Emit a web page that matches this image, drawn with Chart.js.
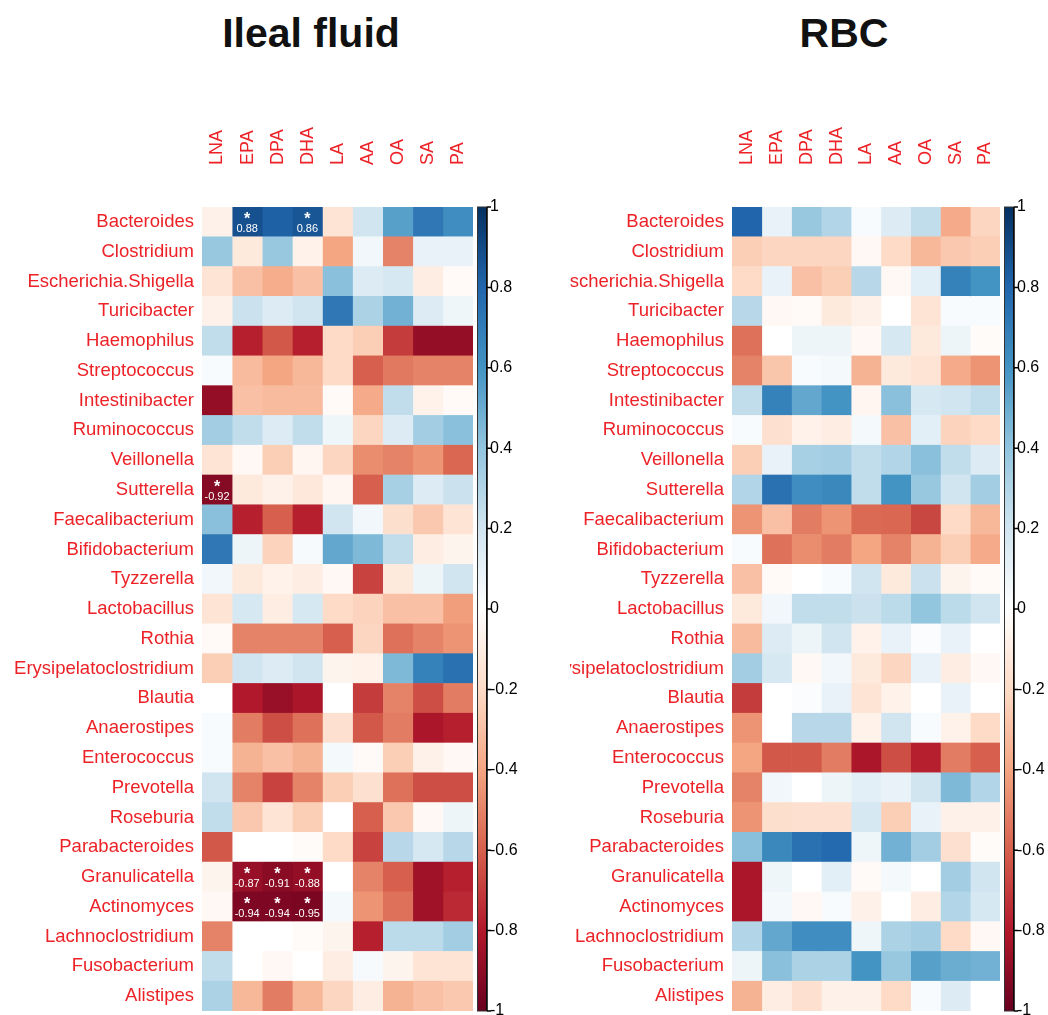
<!DOCTYPE html>
<html>
<head>
<meta charset="utf-8">
<script src="https://cdn.jsdelivr.net/npm/chart.js@4.4.1/dist/chart.umd.min.js"></script>
<style>
  body { margin: 0; background: #fff; width: 1048px; height: 1015px; position: relative; overflow: hidden;
         font-family: "Liberation Sans", Arial, sans-serif; }
  .title { position: absolute; top: 10px; line-height: 47px; font-weight: bold; font-size: 41px; color: #111;
           transform: translateX(-50%); white-space: nowrap; }
  canvas { position: absolute; top: 0; }
</style>
</head>
<body>
<div class="title" style="left:311px">Ileal fluid</div>
<div class="title" style="left:844px">RBC</div>
<canvas id="ileal" width="520" height="1015" style="left:0"></canvas>
<canvas id="rbc" width="478" height="1015" style="left:570px"></canvas>
<script>
const rows = ["Bacteroides", "Clostridium", "Escherichia.Shigella", "Turicibacter", "Haemophilus",
  "Streptococcus", "Intestinibacter", "Ruminococcus", "Veillonella", "Sutterella", "Faecalibacterium",
  "Bifidobacterium", "Tyzzerella", "Lactobacillus", "Rothia", "Erysipelatoclostridium", "Blautia",
  "Anaerostipes", "Enterococcus", "Prevotella", "Roseburia", "Parabacteroides", "Granulicatella",
  "Actinomyces", "Lachnoclostridium", "Fusobacterium", "Alistipes"];
const cols = ["LNA", "EPA", "DPA", "DHA", "LA", "AA", "OA", "SA", "PA"];

// correlation values, one row per genus, columns as in cols
const ilealValues = [
  [-0.08, 0.88, 0.82, 0.86, -0.15, 0.20, 0.55, 0.72, 0.62],
  [0.38, -0.12, 0.38, -0.07, -0.40, 0.06, -0.50, 0.10, 0.10],
  [-0.15, -0.30, -0.37, -0.30, 0.42, 0.15, 0.18, -0.10, -0.03],
  [-0.08, 0.22, 0.15, 0.20, 0.72, 0.32, 0.48, 0.15, 0.07],
  [0.25, -0.78, -0.62, -0.78, -0.20, -0.25, -0.70, -0.88, -0.88],
  [0.03, -0.32, -0.40, -0.33, -0.20, -0.60, -0.53, -0.50, -0.50],
  [-0.88, -0.30, -0.32, -0.32, -0.03, -0.38, 0.25, -0.07, -0.03],
  [0.35, 0.25, 0.15, 0.25, 0.07, -0.22, 0.15, 0.35, 0.42],
  [-0.15, -0.04, -0.25, -0.05, -0.22, -0.47, -0.50, -0.45, -0.58],
  [-0.92, -0.12, -0.08, -0.13, -0.05, -0.60, 0.33, 0.15, 0.22],
  [0.42, -0.78, -0.60, -0.78, 0.20, 0.06, -0.18, -0.27, -0.15],
  [0.72, 0.08, -0.23, 0.04, 0.52, 0.45, 0.25, -0.10, -0.06],
  [0.06, -0.12, -0.07, -0.10, -0.04, -0.68, -0.12, 0.08, 0.20],
  [-0.15, 0.18, -0.10, 0.18, -0.20, -0.23, -0.30, -0.30, -0.42],
  [-0.03, -0.50, -0.50, -0.50, -0.60, -0.22, -0.55, -0.50, -0.45],
  [-0.25, 0.20, 0.15, 0.20, -0.06, -0.07, 0.45, 0.68, 0.75],
  [0.00, -0.80, -0.87, -0.82, 0.00, -0.70, -0.50, -0.65, -0.52],
  [0.03, -0.52, -0.65, -0.55, -0.17, -0.62, -0.52, -0.82, -0.78],
  [0.03, -0.35, -0.30, -0.35, 0.05, -0.03, -0.25, -0.08, -0.04],
  [0.20, -0.50, -0.68, -0.50, -0.25, -0.17, -0.55, -0.65, -0.65],
  [0.25, -0.27, -0.15, -0.25, 0.00, -0.60, -0.27, -0.04, 0.08],
  [-0.62, 0.00, 0.00, -0.02, -0.20, -0.68, 0.28, 0.18, 0.28],
  [-0.06, -0.87, -0.91, -0.88, 0.00, -0.50, -0.60, -0.85, -0.78],
  [-0.04, -0.94, -0.94, -0.95, 0.05, -0.45, -0.55, -0.85, -0.75],
  [-0.50, 0.00, 0.00, -0.02, -0.06, -0.78, 0.27, 0.27, 0.35],
  [0.25, 0.00, -0.04, 0.00, -0.10, 0.04, -0.06, -0.15, -0.15],
  [0.32, -0.33, -0.52, -0.33, -0.22, -0.10, -0.35, -0.30, -0.27]
];

const rbcValues = [
  [0.80, 0.10, 0.38, 0.30, 0.03, 0.15, 0.25, -0.38, -0.22],
  [-0.25, -0.22, -0.22, -0.22, -0.04, -0.20, -0.33, -0.27, -0.25],
  [-0.20, 0.10, -0.30, -0.25, 0.28, -0.04, 0.12, 0.68, 0.60],
  [0.28, -0.04, -0.03, -0.12, -0.08, 0.00, -0.15, 0.03, 0.03],
  [-0.55, 0.00, 0.08, 0.08, -0.04, 0.18, -0.12, 0.08, -0.02],
  [-0.50, -0.28, 0.03, 0.05, -0.35, -0.12, -0.15, -0.38, -0.45],
  [0.25, 0.68, 0.52, 0.60, -0.05, 0.42, 0.18, 0.20, 0.25],
  [0.03, -0.17, -0.07, -0.10, 0.05, -0.30, 0.12, -0.23, -0.20],
  [-0.25, 0.10, 0.33, 0.35, 0.25, 0.30, 0.42, 0.25, 0.15],
  [0.30, 0.75, 0.62, 0.65, 0.25, 0.60, 0.38, 0.20, 0.35],
  [-0.45, -0.30, -0.52, -0.45, -0.57, -0.58, -0.67, -0.20, -0.33],
  [0.03, -0.55, -0.47, -0.52, -0.40, -0.50, -0.35, -0.25, -0.38],
  [-0.30, -0.03, 0.00, 0.03, 0.20, -0.12, 0.22, -0.06, -0.03],
  [-0.12, 0.06, 0.25, 0.25, 0.22, 0.27, 0.40, 0.27, 0.20],
  [-0.32, 0.15, 0.08, 0.20, -0.07, 0.10, 0.02, 0.10, 0.00],
  [0.35, 0.18, -0.04, 0.06, -0.12, -0.22, 0.10, -0.10, -0.04],
  [-0.70, 0.00, 0.02, 0.10, -0.15, -0.07, 0.00, 0.10, 0.00],
  [-0.45, 0.00, 0.28, 0.28, -0.07, 0.20, 0.03, -0.07, -0.20],
  [-0.40, -0.62, -0.62, -0.52, -0.82, -0.65, -0.78, -0.52, -0.60],
  [-0.50, 0.06, 0.00, 0.08, 0.12, 0.10, 0.20, 0.45, 0.30],
  [-0.45, -0.18, -0.17, -0.17, 0.18, -0.25, 0.10, -0.08, -0.08],
  [0.42, 0.65, 0.75, 0.78, 0.07, 0.48, 0.35, -0.17, -0.02],
  [-0.82, 0.07, 0.00, 0.12, -0.03, 0.05, 0.00, 0.35, 0.20],
  [-0.82, 0.05, -0.04, 0.03, -0.08, 0.00, -0.10, 0.30, 0.18],
  [0.30, 0.52, 0.62, 0.62, 0.07, 0.32, 0.35, -0.20, -0.04],
  [0.08, 0.42, 0.32, 0.32, 0.60, 0.38, 0.55, 0.50, 0.48],
  [-0.35, -0.10, -0.17, -0.08, -0.08, -0.20, 0.03, 0.15, 0.00]
];

// significant cells [row, col]
const ilealStars = [[0, 1], [0, 3], [9, 0], [22, 1], [22, 2], [22, 3], [23, 1], [23, 2], [23, 3]];
const rbcStars = [];

const colourTicks = [1, 0.8, 0.6, 0.4, 0.2, 0, -0.2, -0.4, -0.6, -0.8, -1];

// RdBu, from -1 to 1
const palette = ["#67001F", "#B2182B", "#D6604D", "#F4A582", "#FDDBC7", "#FFFFFF",
  "#D1E5F0", "#92C5DE", "#4393C3", "#2166AC", "#053061"];

const FONT = '"Liberation Sans", Arial, sans-serif';
const LABEL_RED = "#ec2227";

function hexToRgb(h) {
  return [parseInt(h.slice(1, 3), 16), parseInt(h.slice(3, 5), 16), parseInt(h.slice(5, 7), 16)];
}

function corrColour(v) {
  const t = (Math.max(-1, Math.min(1, v)) + 1) / 2 * (palette.length - 1);
  const i = Math.min(Math.floor(t), palette.length - 2);
  const f = t - i;
  const a = hexToRgb(palette[i]), b = hexToRgb(palette[i + 1]);
  const c = a.map((x, k) => Math.round(x + (b[k] - x) * f));
  return `rgb(${c[0]},${c[1]},${c[2]})`;
}

// stars + numbers in cells, and the colour bar next to the heatmap
const heatExtras = {
  id: "heatExtras",
  afterDraw(chart, args, opts) {
    const ctx = chart.ctx;
    const area = chart.chartArea;
    const x = chart.scales.x, y = chart.scales.y, cb = chart.scales.cb;
    ctx.save();
    ctx.fillStyle = "#fff";
    ctx.textAlign = "center";
    ctx.textBaseline = "alphabetic";
    opts.stars.forEach(([r, c]) => {
      const cx = x.getPixelForValue(c + 0.5);
      const cy = y.getPixelForValue(r);
      ctx.font = "bold 16px " + FONT;
      ctx.fillText("*", cx, cy + 2);
      ctx.font = "11px " + FONT;
      ctx.fillText(opts.values[r][c].toFixed(2), cx, cy + 10);
    });

    const top = cb.getPixelForValue(1), bot = cb.getPixelForValue(-1);
    const x0 = area.right + 4, x1 = area.right + 14;
    const grad = ctx.createLinearGradient(0, bot, 0, top);
    palette.forEach((c, i) => grad.addColorStop(i / (palette.length - 1), c));
    ctx.fillStyle = grad;
    ctx.fillRect(x0, top, x1 - x0, bot - top);
    ctx.strokeStyle = "#333";
    ctx.lineWidth = 1;
    ctx.strokeRect(x0 + 0.5, top, x1 - x0 - 1, bot - top);
    ctx.strokeStyle = "#000";
    ctx.lineWidth = 1.5;
    ctx.beginPath();
    ctx.moveTo(x1, top);
    ctx.lineTo(x1, bot);
    colourTicks.forEach(v => {
      const py = cb.getPixelForValue(v);
      ctx.moveTo(x1, py);
      ctx.lineTo(x1 + 4, py);
    });
    ctx.stroke();
    ctx.restore();
  }
};

function makeChart(id, values, stars, yWidth, cbWidth) {
  const datasets = cols.map((c, j) => ({
    label: c,
    data: rows.map(() => [j, j + 1]),
    backgroundColor: rows.map((r, i) => corrColour(values[i][j])),
    borderWidth: 0,
    grouped: false,
    categoryPercentage: 1,
    barPercentage: 1
  }));
  return new Chart(document.getElementById(id), {
    type: "bar",
    data: { labels: rows, datasets: datasets },
    options: {
      indexAxis: "y",
      responsive: false,
      animation: false,
      layout: { padding: { top: 0, bottom: 4, left: 0, right: 0 } },
      plugins: {
        legend: { display: false },
        tooltip: { enabled: false },
        heatExtras: { values: values, stars: stars }
      },
      scales: {
        x: {
          type: "linear",
          position: "top",
          min: 0,
          max: 9,
          grid: { display: false, drawTicks: false },
          border: { display: false },
          afterBuildTicks: s => { s.ticks = cols.map((c, i) => ({ value: i + 0.5 })); },
          ticks: {
            autoSkip: false,
            minRotation: 90,
            maxRotation: 90,
            padding: 42,
            labelOffset: 22,
            color: LABEL_RED,
            font: { family: FONT, size: 18 },
            callback: (v, i) => cols[i]
          },
          afterFit: s => {
            s.height = 207;
            s.paddingLeft = 0; s.paddingRight = 0;
          }
        },
        y: {
          type: "category",
          position: "left",
          grid: { display: false, drawTicks: false },
          border: { display: false },
          ticks: {
            autoSkip: false,
            padding: 8,
            color: LABEL_RED,
            font: { family: FONT, size: 18.5 }
          },
          afterFit: s => {
            s.width = yWidth;
            s.paddingTop = 0; s.paddingBottom = 0;
          }
        },
        cb: {
          type: "linear",
          axis: "y",
          position: "right",
          offset: false,
          min: -1,
          max: 1,
          grid: { display: false, drawTicks: false },
          border: { display: false },
          afterBuildTicks: s => { s.ticks = colourTicks.map(v => ({ value: v })); },
          ticks: {
            padding: 17,
            color: "#000",
            font: { family: FONT, size: 16 },
            callback: v => String(v)
          },
          afterFit: s => {
            s.width = cbWidth;
            s.paddingTop = 0; s.paddingBottom = 0;
          }
        }
      }
    },
    plugins: [heatExtras]
  });
}

makeChart("ileal", ilealValues, ilealStars, 202, 47);
makeChart("rbc", rbcValues, rbcStars, 162, 48);
</script>
</body>
</html>
